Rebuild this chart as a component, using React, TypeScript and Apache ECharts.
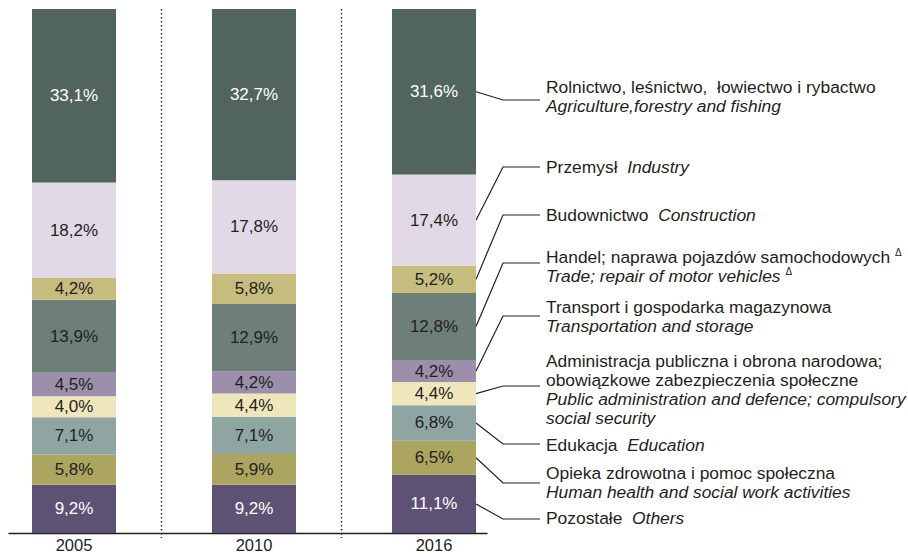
import React, { useEffect, useRef } from 'react';
import * as echarts from 'echarts';

// ---- data ----
const years = ['2005', '2010', '2016'];

const others = [9.2, 9.2, 11.1];
const health = [5.8, 5.9, 6.5];
const education = [7.1, 7.1, 6.8];
const publicAdmin = [4.0, 4.4, 4.4];
const transport = [4.5, 4.2, 4.2];
const trade = [13.9, 12.9, 12.8];
const construction = [4.2, 5.8, 5.2];
const industry = [18.2, 17.8, 17.4];
const agriculture = [33.1, 32.7, 31.6];

const FONT = '"Liberation Sans", Arial, Helvetica, sans-serif';

// stacked bottom -> top
const sectors = [
  { name: 'Others', values: others, color: '#5e5274', txt: '#ffffff',
    label: '{n|Pozostałe  }{i|Others}', leaderY: 519, textY: 518 },
  { name: 'Health', values: health, color: '#aca55f', txt: '#231f20',
    label: '{n|Opieka zdrowotna i pomoc społeczna}\n{i|Human health and social work activities}', leaderY: 483, textY: 482.5 },
  { name: 'Education', values: education, color: '#8fa5a2', txt: '#231f20',
    label: '{n|Edukacja  }{i|Education}', leaderY: 444, textY: 445 },
  { name: 'Public administration', values: publicAdmin, color: '#efe6bc', txt: '#231f20',
    label: '{n|Administracja publiczna i obrona narodowa;}\n{n|obowiązkowe zabezpieczenia społeczne}\n{i|Public administration and defence; compulsory}\n{i|social security}', leaderY: 386, textY: 389.5 },
  { name: 'Transport', values: transport, color: '#9c8fab', txt: '#231f20',
    label: '{n|Transport i gospodarka magazynowa}\n{i|Transportation and storage}', leaderY: 316, textY: 316 },
  { name: 'Trade', values: trade, color: '#6d7f78', txt: '#231f20',
    label: '{n|Handel; naprawa pojazdów samochodowych }{s|Δ}\n{i|Trade; repair of motor vehicles }{s|Δ}', leaderY: 263, textY: 266.5 },
  { name: 'Construction', values: construction, color: '#c6bc7e', txt: '#231f20',
    label: '{n|Budownictwo  }{i|Construction}', leaderY: 215, textY: 215 },
  { name: 'Industry', values: industry, color: '#e1dae6', txt: '#231f20',
    label: '{n|Przemysł  }{i|Industry}', leaderY: 167, textY: 167 },
  { name: 'Agriculture', values: agriculture, color: '#51645d', txt: '#ffffff',
    label: '{n|Rolnictwo, leśnictwo,  łowiectwo i rybactwo}\n{i|Agriculture,forestry and fishing}', leaderY: 100, textY: 96 },
];

const BAR_W = 84;
const LABEL_FS = 17.4;
const fmt = (v: number) => v.toFixed(1).replace('.', ',') + '%';

export default function App() {
  const ref = useRef<HTMLDivElement>(null);

  useEffect(() => {
    if (!ref.current) return;
    const chart = echarts.init(ref.current, undefined, { renderer: 'svg' });

    const barSeries = sectors.map((s) => ({
      type: 'bar',
      name: s.name,
      stack: 'total',
      xAxisIndex: 0,
      yAxisIndex: 0,
      barWidth: BAR_W,
      data: s.values,
      itemStyle: { color: s.color },
      label: {
        show: true,
        position: 'inside',
        color: s.txt,
        fontFamily: FONT,
        fontSize: 17,
        formatter: (p: any) => fmt(p.value),
      },
    }));

    const option: any = {
      animation: false,
      grid: [
        { left: -16, width: 540, top: 9, bottom: 21, outerBoundsMode: 'none', containLabel: false },
        { left: 9, width: 478, top: 9, bottom: 21, outerBoundsMode: 'none', containLabel: false },
      ],
      xAxis: [
        {
          type: 'category',
          gridIndex: 0,
          data: years,
          axisLine: { show: false },
          axisTick: { show: false },
          splitLine: { show: false },
          axisLabel: { color: '#231f20', fontFamily: FONT, fontSize: 16.5, margin: 3 },
        },
        {
          type: 'value',
          gridIndex: 1,
          min: 0,
          max: 1,
          axisLine: { show: true, lineStyle: { color: '#231f20', width: 1.3 } },
          axisTick: { show: false },
          axisLabel: { show: false },
          splitLine: { show: false },
        },
      ],
      yAxis: [
        { type: 'value', gridIndex: 0, min: 0, max: 100, show: false },
        { type: 'value', gridIndex: 1, min: 0, max: 1, show: false },
      ],
      series: barSeries,
    };

    chart.setOption(option);

    const graphics: any[] = [];

    // dotted separators halfway between neighbouring year bands
    const top = (chart.convertToPixel({ seriesIndex: 0 }, [0, 100]) as number[])[1];
    const base = (chart.convertToPixel({ seriesIndex: 0 }, [0, 0]) as number[])[1];
    for (let k = 0; k < years.length - 1; k++) {
      const a = (chart.convertToPixel({ seriesIndex: 0 }, [k, 0]) as number[])[0];
      const b = (chart.convertToPixel({ seriesIndex: 0 }, [k + 1, 0]) as number[])[0];
      const xm = Math.round((a + b) / 2) - 2.5;
      graphics.push({
        type: 'line',
        silent: true,
        shape: { x1: xm, y1: top, x2: xm, y2: base + 5 },
        style: { stroke: '#231f20', lineWidth: 1.4, lineDash: [1.5, 2.5] },
      });
    }

    // annotations for the last bar, positioned from the library's scales
    const last = years.length - 1;
    let cum = 0;
    sectors.forEach((s, i) => {
      const v = s.values[last];
      const mid = cum + v / 2;
      cum += v;
      const p = chart.convertToPixel({ seriesIndex: i }, [last, mid]) as number[];
      const xRight = p[0] + BAR_W / 2;
      graphics.push({
        type: 'polyline',
        silent: true,
        shape: { points: [[xRight, p[1]], [503, s.leaderY], [540, s.leaderY]] },
        style: { stroke: '#231f20', lineWidth: 1.2, fill: null },
      });
      graphics.push({
        type: 'text',
        silent: true,
        x: 546,
        y: s.textY,
        style: {
          text: s.label,
          align: 'left',
          verticalAlign: 'middle',
          fontFamily: FONT,
          fontSize: LABEL_FS,
          fill: '#231f20',
          rich: {
            n: { fontFamily: FONT, fontSize: LABEL_FS, lineHeight: 19, fill: '#231f20', color: '#231f20' },
            i: { fontFamily: FONT, fontSize: LABEL_FS, lineHeight: 19, fontStyle: 'italic', fill: '#231f20', color: '#231f20' },
            s: { fontFamily: FONT, fontSize: 10, lineHeight: 19, verticalAlign: 'top', fill: '#231f20', color: '#231f20' },
          },
        },
      });
    });
    chart.setOption({ graphic: graphics });

    return () => chart.dispose();
  }, []);

  return (
    <div
      ref={ref}
      style={{ position: 'absolute', left: 0, top: 0, width: 908, height: 554, background: '#ffffff' }}
    />
  );
}
